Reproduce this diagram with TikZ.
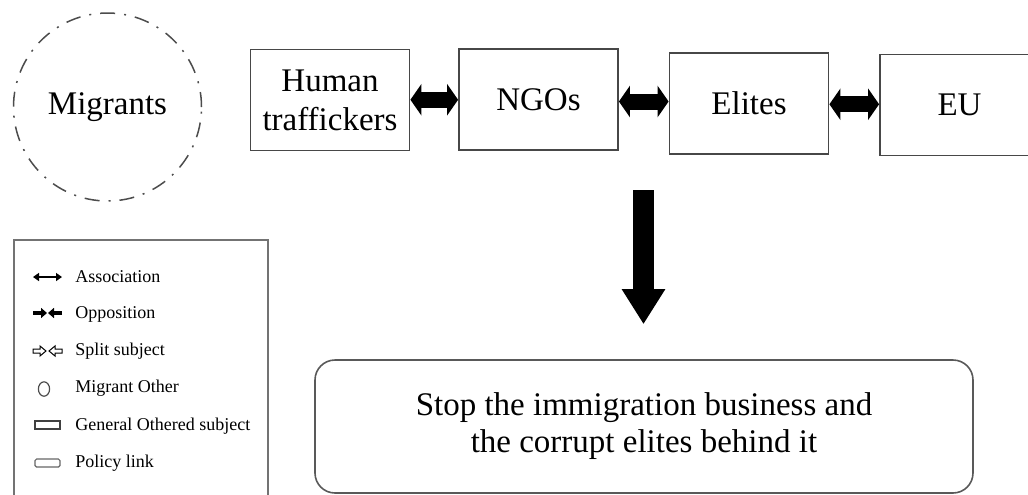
\documentclass[tikz,border=0pt]{standalone}
\usepackage{fontspec}
\setmainfont{Liberation Serif}
\usetikzlibrary{arrows.meta}

\begin{document}
\begin{tikzpicture}[
  x=0.5pt, y=-0.5pt,
  % general othered subject (square box)
  othered/.style  = {draw=black!72, line width=0.9pt, fill=white,
                     minimum width=79.5pt, minimum height=50.5pt,
                     align=center, inner sep=2pt,
                     font=\fontsize{16.5}{19.5}\selectfont},
  % migrant other (dash-dotted circle)
  migrant/.style  = {circle, draw=black!70, line width=0.75pt,
                     dash pattern=on 7.5pt off 4.5pt on 1pt off 4.5pt,
                     minimum size=94pt, font=\fontsize{16.5}{19.5}\selectfont},
  % policy link (rounded box)
  policy/.style   = {draw=black!65, line width=0.8pt, rounded corners=10pt,
                     minimum width=329pt, minimum height=66.5pt, align=center,
                     font=\fontsize{16.5}{18.5}\selectfont},
  % thick double-headed association arrow
  assoc/.style    = {line width=8pt,
                     {Triangle[length=5.5pt,width=15.5pt]}-{Triangle[length=5.5pt,width=15.5pt]}},
  % big downward arrow
  droparrow/.style= {line width=10.5pt, -{Triangle[length=17.5pt,width=20.5pt]}},
  % legend text
  legtext/.style  = {anchor=west, font=\fontsize{9}{10}\selectfont, inner sep=0pt},
]

\useasboundingbox (0,0) rectangle (1028,494);

% ═══════════════════════════
%  Migrant Other
% ═══════════════════
\node[migrant] (mig) at (107.5,107) {Migrants};

% ═══════════════════════════
%  Chain of othered subjects
% ═══════════════════
\foreach \nm/\x/\y/\txt in {ht/330/100/{Human\\traffickers},
                            ngo/538.5/99.5/{NGOs},
                            eli/749/103.5/{Elites},
                            eu/959.5/105/{EU}}
  \node[othered] (\nm) at (\x,\y) {\txt};

% associations between neighbours (kept horizontal)
\foreach \a/\b in {ht/ngo, ngo/eli, eli/eu}{
  \path (\a.east) -- (\b.west) coordinate[pos=0.5] (mid);
  \draw[assoc] (\a.east |- mid) -- (\b.west |- mid);
}

% ═══════════════════════════
%  Policy link
% ═══════════════════
\node[policy] (pol) at (644,426.5)
  {Stop the immigration business and\\the corrupt elites behind it};

\coordinate (dropstart) at (643.5,190);
\draw[droparrow, shorten >=17.5pt] (dropstart) -- (dropstart |- pol.north);

% ───────────────────────────
%  Legend
% ────────────────
\draw[black!55, line width=0.6pt] (14,240) rectangle (268,500);

% association
\draw[line width=1pt, {Triangle[length=3pt,width=4pt]}-{Triangle[length=3pt,width=4pt]}]
  (33,277) -- (62,277);
% opposition
\draw[line width=2pt, -{Triangle[length=3pt,width=5pt]}] (33,313) -- (47,313);
\draw[line width=2pt, -{Triangle[length=3pt,width=5pt]}] (62,313) -- (48,313);
% split subject
\draw[line width=0.5pt] (33,349) -- (40,349) -- (40,346) -- (46,351)
  -- (40,356) -- (40,353) -- (33,353) -- cycle;
\draw[line width=0.5pt] (62,349) -- (55,349) -- (55,346) -- (49,351)
  -- (55,356) -- (55,353) -- (62,353) -- cycle;
% migrant other
\draw[black!70, line width=0.6pt] (44,389) ellipse [x radius=2.8pt, y radius=3.6pt];
% general othered subject
\draw[black!75, line width=0.8pt] (35,421) rectangle (60,429);
% policy link
\draw[black!60, line width=0.6pt, rounded corners=0.8pt] (35,459) rectangle (60,467);

\foreach \t [count=\i] in {Association, Opposition, Split subject, Migrant Other,
                           General Othered subject, Policy link}
  \node[legtext] (leg\i) at (75,{277+37.2*(\i-1)}) {\t};

\end{tikzpicture}
\end{document}
